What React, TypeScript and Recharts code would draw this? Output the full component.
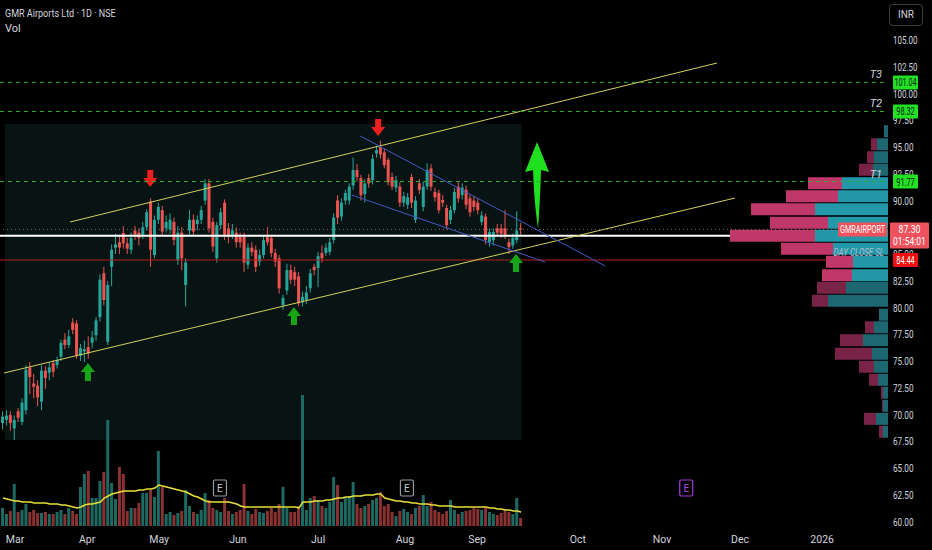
import React from "react";
import {
  Bar,
  BarChart,
  Cell,
  ComposedChart,
  Line,
  ReferenceArea,
  ReferenceDot,
  ReferenceLine,
  XAxis,
  YAxis,
} from "recharts";

// GMR Airports, daily candles from end of Feb 2025 to mid Sep 2025
const opens = [
  69.2, 69.5, 69.95, 68.7, 70.3, 69.3, 70.4, 74.4, 72.9, 72.7, 71.2, 74.1, 73.9, 74.8, 74.6, 75.4, 77.0, 76.5, 78.6, 78.5,
  75.5, 75.9, 76.3, 76.7, 77.4, 79.1, 83.2, 76.8, 83.8, 85.6, 86.1, 86.95, 86.0, 85.4, 87.2, 87.0, 86.8, 87.5, 89.9, 84.9,
  88.2, 89.1, 87.4, 87.3, 88.0, 84.4, 87.0, 82.1, 87.2, 88.2, 87.8, 88.2, 90.0, 91.6, 88.0, 84.6, 87.7, 89.8, 87.4, 86.8,
  87.0, 86.6, 86.6, 84.0, 85.6, 85.4, 84.3, 84.9, 86.6, 86.5, 85.1, 84.6, 80.2, 81.6, 83.5, 83.3, 82.9, 80.5, 80.7, 81.8,
  83.8, 83.7, 85.1, 85.1, 85.2, 86.3, 90.0, 88.5, 90.0, 90.0, 91.4, 92.85, 92.1, 90.6, 92.1, 91.9, 94.4, 95.0, 94.5, 93.8,
  92.2, 91.2, 91.3, 89.8, 89.6, 92.2, 88.2, 91.6, 89.4, 91.3, 93.0, 90.8, 90.7, 90.05, 89.3, 88.2, 89.1, 91.3, 90.5, 91.0,
  90.2, 90.0, 89.8, 88.0, 88.5, 86.1, 86.3, 87.4, 87.4, 87.4, 86.1, 85.8, 86.3, 87.4,
];
const highs = [
  70.3, 70.4, 70.3, 69.9, 70.6, 71.5, 74.6, 74.9, 73.8, 73.2, 74.6, 74.5, 74.9, 75.1, 75.4, 77.0, 77.6, 77.9, 79.0, 78.8,
  76.6, 76.9, 77.3, 77.8, 79.1, 83.1, 83.8, 82.5, 85.9, 86.9, 86.8, 87.6, 86.5, 87.0, 87.6, 87.4, 88.0, 89.2, 90.2, 88.6,
  89.8, 89.5, 88.6, 88.8, 88.4, 87.6, 87.5, 84.6, 89.1, 88.7, 88.6, 89.5, 92.0, 92.0, 88.4, 88.0, 89.3, 90.1, 87.9, 87.8,
  87.5, 87.0, 87.0, 86.0, 86.1, 85.8, 85.4, 86.7, 87.5, 86.8, 85.5, 84.9, 81.2, 84.1, 84.0, 83.8, 83.3, 81.5, 82.0, 83.6,
  84.1, 85.2, 85.8, 86.0, 86.5, 88.8, 90.5, 90.2, 91.0, 91.6, 94.0, 93.4, 92.4, 92.0, 92.5, 94.3, 95.1, 95.6, 94.9, 94.0,
  92.6, 92.3, 91.7, 90.8, 90.7, 92.5, 90.4, 92.0, 91.8, 93.5, 93.4, 91.2, 91.0, 90.5, 89.6, 89.5, 91.2, 91.7, 91.6, 91.4,
  90.5, 90.4, 90.2, 89.0, 88.8, 87.4, 87.4, 87.8, 87.8, 89.1, 86.4, 86.9, 89.0, 87.9,
];
const lows = [
  68.6, 69.0, 68.5, 67.6, 69.3, 69.0, 70.0, 71.9, 71.5, 70.8, 70.4, 72.4, 73.2, 73.5, 74.3, 75.0, 76.1, 76.2, 77.5, 75.2,
  75.0, 74.9, 75.2, 76.2, 76.9, 78.7, 80.2, 76.5, 82.0, 85.0, 85.0, 85.5, 85.0, 85.0, 86.3, 85.8, 86.4, 87.2, 83.8, 84.6,
  87.8, 86.8, 87.0, 86.9, 85.8, 84.0, 83.5, 80.1, 86.8, 86.7, 87.2, 87.8, 89.6, 87.0, 85.2, 84.2, 87.3, 86.3, 86.0, 86.4,
  85.6, 85.6, 83.3, 83.6, 84.8, 83.3, 83.9, 84.6, 85.8, 84.7, 83.8, 81.3, 79.8, 81.2, 82.2, 82.0, 80.1, 80.1, 80.3, 81.4,
  83.0, 81.9, 84.2, 84.8, 84.9, 86.0, 87.8, 88.1, 89.6, 89.6, 91.0, 91.8, 90.0, 89.8, 91.2, 91.5, 94.0, 93.9, 93.0, 91.4,
  91.0, 90.8, 89.4, 89.4, 89.2, 89.3, 87.9, 90.6, 89.0, 91.0, 90.9, 89.9, 88.8, 89.4, 87.3, 87.8, 88.8, 89.8, 90.1, 89.2,
  88.5, 89.0, 88.7, 87.7, 85.9, 85.7, 85.8, 86.6, 86.5, 86.4, 85.0, 85.5, 86.0, 86.8,
];
const closes = [
  69.8, 69.9, 69.2, 69.5, 69.7, 71.1, 74.2, 73.5, 72.6, 71.6, 74.1, 73.4, 74.4, 74.0, 75.1, 76.7, 76.5, 77.3, 77.9, 75.5,
  76.2, 76.1, 75.7, 77.2, 78.8, 82.6, 80.7, 82.1, 85.4, 85.9, 85.6, 86.0, 85.5, 86.5, 86.8, 86.5, 87.5, 88.9, 85.4, 88.2,
  89.4, 87.1, 88.0, 88.2, 86.3, 87.0, 84.6, 84.2, 88.2, 87.1, 88.2, 89.1, 91.6, 87.4, 85.7, 87.7, 88.9, 86.8, 86.6, 87.2,
  86.1, 86.1, 84.2, 85.6, 85.2, 83.8, 84.9, 86.3, 86.1, 85.1, 84.3, 81.8, 80.9, 83.5, 82.6, 82.6, 80.4, 81.0, 81.4, 83.2,
  83.5, 84.8, 84.6, 85.6, 86.1, 88.4, 88.4, 89.8, 90.7, 91.3, 92.85, 92.2, 90.5, 91.6, 91.6, 93.9, 94.7, 94.3, 93.3, 91.7,
  91.3, 91.9, 89.8, 90.4, 90.3, 89.8, 90.0, 91.0, 91.3, 92.85, 91.3, 90.3, 89.1, 89.8, 87.7, 89.1, 90.8, 90.2, 91.2, 89.6,
  88.9, 89.4, 89.1, 88.6, 86.3, 87.05, 87.05, 87.0, 86.9, 86.8, 85.65, 86.5, 87.2, 87.3,
];
// volume (lakh shares) and its 20-day average
const volumes = [
  18, 12, 15, 42, 14, 16, 22, 14, 16, 13, 13, 14, 12, 12, 14, 16, 12, 18, 15, 12,
  39, 52, 55, 28, 28, 45, 54, 106, 43, 27, 59, 52, 15, 18, 18, 23, 33, 33, 36, 29,
  75, 39, 12, 14, 11, 13, 15, 36, 20, 14, 12, 16, 33, 26, 18, 16, 14, 28, 15, 12,
  14, 16, 42, 15, 12, 17, 14, 13, 15, 18, 14, 22, 39, 18, 14, 14, 20, 131, 16, 28,
  30, 26, 20, 18, 24, 49, 41, 24, 28, 30, 44, 22, 18, 20, 22, 26, 28, 34, 20, 22,
  14, 10, 15, 17, 14, 12, 18, 20, 31, 20, 24, 16, 14, 12, 15, 26, 16, 12, 14, 15,
  16, 18, 17, 16, 18, 14, 12, 11, 13, 16, 14, 12, 28, 8,
];
const volumeAvg = [
  28, 27, 26, 25, 25, 24, 24, 24, 23, 23, 23, 23, 22, 22, 22, 21, 21, 20, 19, 18,
  19, 21, 22, 22, 23, 24, 28, 30, 32, 33, 34, 35, 35, 35, 35, 36, 36, 37, 37, 38,
  41, 40, 39, 38, 37, 36, 35, 34, 32, 30, 29, 27, 25, 24, 24, 24, 24, 24, 24, 23,
  22, 20, 19, 19, 19, 19, 19, 19, 19, 19, 19, 19, 19, 19, 19, 19, 18, 24, 24, 24,
  25, 25, 25, 26, 26, 27, 28, 28, 29, 29, 30, 30, 30, 31, 31, 31, 32, 32, 28, 27,
  26, 25, 25, 24, 24, 23, 23, 22, 22, 22, 21, 21, 20, 20, 20, 20, 19, 19, 19, 19,
  19, 19, 19, 19, 19, 18, 18, 17, 17, 16, 16, 15, 15, 14,
];

const monthLabels = ["Mar", "Apr", "May", "Jun", "Jul", "Aug", "Sep", "Oct", "Nov", "Dec", "2026"];
const monthTicks = [3.1, 21.6, 40.1, 60.3, 80.9, 103.2, 121.7, 147.6, 169.2, 189.2, 210.3];
// 87.50 sits under the last-price tag, so it is left out
const priceTicks = [60, 62.5, 65, 67.5, 70, 72.5, 75, 77.5, 80, 82.5, 85, 90, 92.5, 95, 97.5, 100, 102.5, 105];

// volume profile rows: price, buy volume, sell volume
const profilePrices = [
  96.45, 95.23, 94.02, 92.85, 91.59, 90.37, 89.16, 87.9, 86.68, 85.47, 84.25, 82.99,
  81.82, 80.61, 79.3, 78.13, 76.92, 75.65, 74.44, 73.22, 72.01, 70.79, 69.57, 68.36,
];
const profileUp = [4, 11, 14, 15, 46, 50, 73, 60, 73, 55, 35, 36, 42, 60, 9, 14, 25, 16, 14, 10, 5, 5, 12, 5];
const profileDown = [0, 6, 7, 14, 34, 52, 64, 58, 85, 52, 27, 30, 29, 16, 0, 9, 23, 37, 15, 9, 2, 1, 12, 4];
const valueAreaRows = [4, 5, 6, 7, 8, 9, 10, 11];

// levels drawn on the chart
const targetNames = ["T3", "T2", "T1"];
const targetLevels = [101.04, 98.32, 91.77];
const lastPrice = 87.3;
const countdown = "01:54:01";
const stopLevel = 84.44;
const supportLevel = 86.71;

// [x1, y1, x2, y2] in bar index / price
const channelLines = [
  [0.26, 73.88, 187.9, 90.23],
  [17.2, 87.99, 183.3, 102.85],
];
const wedgeLines = [
  [91.7, 96.03, 154.6, 83.88],
  [89.6, 90.51, 139.2, 84.25],
];
const topArrows = [
  [37.8, 91.26],
  [96.3, 96.03],
];
const bottomArrows = [
  [21.8, 74.81],
  [74.7, 80.05],
  [131.7, 85.0],
];
const breakoutArrow = [137.1, 95.47];
const earnings = [
  [55.7, 63.13, 0],
  [103.7, 63.13, 0],
  [175.4, 63.13, 1],
];
const patternBox = [0.5, 67.62, 133.2, 97.15];

const W = 932;
const H = 550;
const AXIS_W = 44;
const AXIS_H = 24;
const X_DOMAIN: [number, number] = [-0.77, 227.2];
const PRICE_DOMAIN: [number, number] = [59.58, 108.74];
const VOL_DOMAIN: [number, number] = [0, 526];

const UP = "#26a69a";
const DOWN = "#ef5350";
const VOL_UP = "#1d6a62";
const VOL_DOWN = "#8a3232";
const TEXT = "#d1d4dc";
const TAG_GREEN = "#22e022";

const candles = closes.map((c, i) => ({
  i,
  open: opens[i],
  high: highs[i],
  low: lows[i],
  close: c,
  volume: volumes[i],
  volAvg: volumeAvg[i],
}));

const profile = profilePrices.map((p, i) => ({ price: p, up: profileUp[i], down: profileDown[i] }));

// TradingView's labels are narrow; squeeze the text to the same width
function Narrow(props: any) {
  const { text, per = 4.1, ...rest } = props;
  return (
    <text {...rest} textLength={text.length * per} lengthAdjust="spacingAndGlyphs">
      {text}
    </text>
  );
}

function PriceTick(props: any) {
  const { x, y, payload } = props;
  return <Narrow x={x} y={y + 4} fontSize={11} fill={TEXT} text={payload.value.toFixed(2)} />;
}

function Candle(props: any) {
  const { x, y, width, height, payload } = props;
  const top = Math.min(y, y + height);
  const bot = Math.max(y, y + height);
  const span = payload.high - payload.low || 1;
  const py = (p: number) => top + ((payload.high - p) / span) * (bot - top);
  const color = payload.close >= payload.open ? UP : DOWN;
  const bt = py(Math.max(payload.open, payload.close));
  const bb = py(Math.min(payload.open, payload.close));
  const cx = x + width / 2;
  return (
    <g>
      <line x1={cx} x2={cx} y1={top} y2={bot} stroke={color} strokeWidth={1} />
      <rect x={x} y={bt} width={width} height={Math.max(1, bb - bt)} fill={color} />
    </g>
  );
}

const downArrow = (p: any) => {
  const { cx, cy } = p;
  return (
    <path
      d={`M${cx - 3},${cy - 17} L${cx + 3},${cy - 17} L${cx + 3},${cy - 9} L${cx + 7},${cy - 9} L${cx},${cy} L${cx - 7},${cy - 9} L${cx - 3},${cy - 9} Z`}
      fill="#f01e1e"
    />
  );
};

const upArrow = (p: any) => {
  const { cx, cy } = p;
  return (
    <path
      d={`M${cx},${cy} L${cx + 7},${cy + 9} L${cx + 3},${cy + 9} L${cx + 3},${cy + 18} L${cx - 3},${cy + 18} L${cx - 3},${cy + 9} L${cx - 7},${cy + 9} Z`}
      fill="#16a516"
    />
  );
};

const bigArrow = (p: any) => {
  const { cx, cy } = p;
  return (
    <path
      d={`M${cx},${cy} L${cx + 12},${cy + 30} L${cx + 4},${cy + 28} Q${cx + 3},${cy + 60} ${cx + 1},${cy + 87} Q${cx - 3},${cy + 60} ${cx - 4},${cy + 28} L${cx - 12},${cy + 30} Z`}
      fill="#1fe01f"
    />
  );
};

const earningsMark = (future: boolean) => (p: any) => {
  const { cx, cy } = p;
  const c = future ? "#a43bd8" : "#9a9ca3";
  return (
    <g>
      <rect x={cx - 6.5} y={cy - 8} width={13} height={16} rx={1.5} fill="#000" stroke={c} strokeWidth={1.2} />
      <text x={cx} y={cy + 4} textAnchor="middle" fontSize={10} fill={future ? "#b04be0" : "#c8cad0"}>
        E
      </text>
    </g>
  );
};

const targetLabel = (name: string, level: number) => (p: any) => {
  const vb = p.viewBox;
  const right = vb.x + vb.width;
  return (
    <g>
      <text x={right - 6} y={vb.y - 4} textAnchor="end" fontSize={11} fontStyle="italic" fill={TEXT}>
        {name}
      </text>
      <rect x={right + 5} y={vb.y - 7} width={25} height={14} rx={1} fill={TAG_GREEN} />
      <Narrow x={right + 17.5} y={vb.y + 4} textAnchor="middle" fontSize={11} fill="#131722" per={3.7} text={level.toFixed(2)} />
    </g>
  );
};

const lastPriceLabel = (p: any) => {
  const vb = p.viewBox;
  const right = vb.x + vb.width;
  return (
    <g>
      <rect x={right - 50} y={vb.y - 7} width={49} height={14} rx={1} fill="#f0525d" />
      <Narrow x={right - 25.5} y={vb.y + 4} textAnchor="middle" fontSize={10.5} fill="#fff" per={4.5} text="GMRAIRPORT" />
      <rect x={right + 2} y={vb.y - 7} width={39} height={26} rx={1} fill="#f0525d" />
      <Narrow x={right + 21.5} y={vb.y + 4} textAnchor="middle" fontSize={11} fill="#fff" per={4.4} text={lastPrice.toFixed(2)} />
      <Narrow x={right + 21.5} y={vb.y + 16} textAnchor="middle" fontSize={10.5} fill="#fff" per={4.1} text={countdown} />
    </g>
  );
};

const stopLabel = (p: any) => {
  const vb = p.viewBox;
  const right = vb.x + vb.width;
  return (
    <g>
      <Narrow x={right - 4} y={vb.y - 4} textAnchor="end" fontSize={11} fontStyle="italic" fill="#aebfd3" per={4.2} text="DAY CLOSE SL" />
      <rect x={right + 5} y={vb.y - 7} width={25} height={14} rx={1} fill="#f20f0f" />
      <Narrow x={right + 17.5} y={vb.y + 4} textAnchor="middle" fontSize={11} fill="#fff" per={3.7} text={stopLevel.toFixed(2)} />
    </g>
  );
};

export default function App() {
  const margin = { top: 0, right: 0, left: 0, bottom: 0 };
  const overlayMargin = { top: 0, right: AXIS_W, left: 0, bottom: AXIS_H };
  return (
    <div
      style={{
        position: "fixed",
        left: 0,
        top: 0,
        width: W,
        height: H,
        background: "#000",
        overflow: "hidden",
        fontFamily: "Roboto, 'Noto Sans', sans-serif",
      }}
    >
      <div style={{ position: "absolute", left: 0, top: 0 }}>
        <ComposedChart width={W} height={H} data={candles} margin={margin}>
          <XAxis
            dataKey="i"
            type="number"
            domain={X_DOMAIN}
            allowDataOverflow
            ticks={monthTicks}
            tickFormatter={(v: number) => monthLabels[monthTicks.indexOf(v)] ?? ""}
            height={AXIS_H}
            axisLine={false}
            tickLine={false}
            tickMargin={4}
            tick={{ fontSize: 10.5, fill: TEXT }}
          />
          <XAxis xAxisId="vx" dataKey="i" type="number" domain={X_DOMAIN} allowDataOverflow hide />
          <YAxis
            yAxisId="price"
            orientation="right"
            type="number"
            domain={PRICE_DOMAIN}
            allowDataOverflow
            ticks={priceTicks}
            width={AXIS_W}
            axisLine={false}
            tickLine={false}
            tickSize={0}
            tickMargin={5}
            tick={PriceTick}
          />
          <YAxis yAxisId="vol" type="number" domain={VOL_DOMAIN} allowDataOverflow hide />
          <ReferenceArea
            yAxisId="price"
            x1={patternBox[0]}
            y1={patternBox[1]}
            x2={patternBox[2]}
            y2={patternBox[3]}
            fill="#081414"
            fillOpacity={1}
            stroke="none"
          />
          <Bar xAxisId="vx" yAxisId="vol" dataKey="volume" barSize={3} isAnimationActive={false}>
            {candles.map((d, k) => (
              <Cell key={k} fill={d.close >= d.open ? VOL_UP : VOL_DOWN} />
            ))}
          </Bar>
          <Line
            xAxisId="vx"
            yAxisId="vol"
            dataKey="volAvg"
            type="linear"
            stroke="#e6df3a"
            strokeWidth={1.5}
            dot={false}
            isAnimationActive={false}
          />
          <Bar
            yAxisId="price"
            dataKey={(d: any) => [d.low, d.high]}
            barSize={3}
            shape={Candle}
            isAnimationActive={false}
          />
          <ReferenceLine yAxisId="price" y={lastPrice} stroke="#6f6f6f" strokeDasharray="1 3" />
          <ReferenceLine yAxisId="price" y={supportLevel} stroke="#ffffff" strokeWidth={2} />
          <ReferenceLine yAxisId="price" y={stopLevel} stroke="#b51d1d" strokeWidth={1} />
          {channelLines.map((s, k) => (
            <ReferenceLine
              key={`c${k}`}
              yAxisId="price"
              segment={[
                { x: s[0], y: s[1] },
                { x: s[2], y: s[3] },
              ]}
              stroke="#d3cf5c"
              strokeWidth={1}
              ifOverflow="visible"
            />
          ))}
          {wedgeLines.map((s, k) => (
            <ReferenceLine
              key={`w${k}`}
              yAxisId="price"
              segment={[
                { x: s[0], y: s[1] },
                { x: s[2], y: s[3] },
              ]}
              stroke="#4358c9"
              strokeWidth={1}
              ifOverflow="visible"
            />
          ))}
          {topArrows.map((a, k) => (
            <ReferenceDot key={`t${k}`} yAxisId="price" x={a[0]} y={a[1]} r={1} shape={downArrow} />
          ))}
          {bottomArrows.map((a, k) => (
            <ReferenceDot key={`b${k}`} yAxisId="price" x={a[0]} y={a[1]} r={1} shape={upArrow} />
          ))}
          <ReferenceDot yAxisId="price" x={breakoutArrow[0]} y={breakoutArrow[1]} r={1} shape={bigArrow} />
          {earnings.map((e, k) => (
            <ReferenceDot key={`e${k}`} yAxisId="price" x={e[0]} y={e[1]} r={1} shape={earningsMark(e[2] === 1)} />
          ))}
        </ComposedChart>
      </div>

      <div style={{ position: "absolute", left: W - AXIS_W - 200, top: 0 }}>
        <BarChart width={200 + AXIS_W} height={H} data={profile} layout="vertical" margin={overlayMargin}>
          <XAxis type="number" domain={[0, 200]} reversed hide />
          <YAxis type="number" dataKey="price" domain={PRICE_DOMAIN} allowDataOverflow reversed hide />
          <Bar dataKey="up" stackId="p" barSize={12} isAnimationActive={false}>
            {profile.map((_, k) => (
              <Cell key={k} fill={valueAreaRows.includes(k) ? "#2398a9" : "#1d6772"} />
            ))}
          </Bar>
          <Bar dataKey="down" stackId="p" barSize={12} isAnimationActive={false}>
            {profile.map((_, k) => (
              <Cell key={k} fill={valueAreaRows.includes(k) ? "#c0386a" : "#792346"} />
            ))}
          </Bar>
        </BarChart>
      </div>

      <div style={{ position: "absolute", left: 0, top: 0 }}>
        <ComposedChart width={W} height={H} data={candles} margin={overlayMargin}>
          <XAxis dataKey="i" type="number" domain={X_DOMAIN} allowDataOverflow hide />
          <YAxis type="number" domain={PRICE_DOMAIN} allowDataOverflow hide />
          {targetLevels.map((lv, k) => (
            <ReferenceLine
              key={k}
              y={lv}
              stroke="#2fae2f"
              strokeDasharray="4 4"
              label={targetLabel(targetNames[k], lv)}
            />
          ))}
          <ReferenceLine y={lastPrice} stroke="none" label={lastPriceLabel} />
          <ReferenceLine y={stopLevel} stroke="none" label={stopLabel} />
        </ComposedChart>
      </div>

      <div
        style={{
          position: "absolute",
          left: 5,
          top: 7,
          fontSize: 11,
          color: TEXT,
          whiteSpace: "nowrap",
          transform: "scaleX(0.82)",
          transformOrigin: "left top",
        }}
      >
        GMR Airports Ltd · 1D · NSE
      </div>
      <div style={{ position: "absolute", left: 5, top: 22, fontSize: 11, color: TEXT }}>Vol</div>
      <div
        style={{
          position: "absolute",
          left: 889,
          top: 4,
          width: 34,
          height: 22,
          border: "1px solid #3a3d45",
          borderRadius: 4,
          boxSizing: "border-box",
          color: TEXT,
          fontSize: 10,
          lineHeight: "20px",
          paddingLeft: 8,
        }}
      >
        INR
      </div>
    </div>
  );
}
